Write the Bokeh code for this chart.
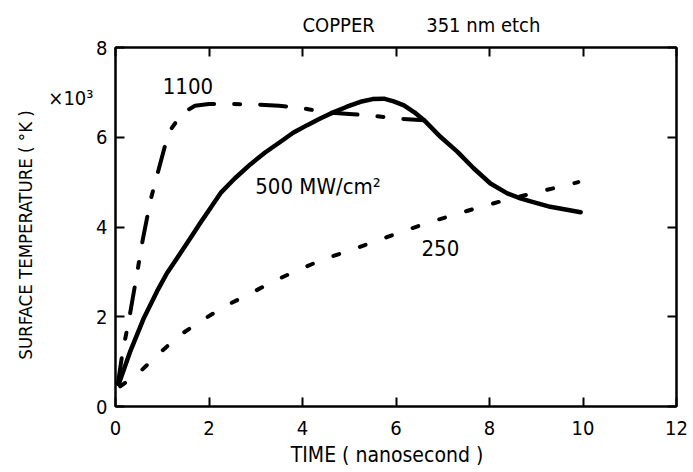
from bokeh.plotting import figure
from bokeh.models import Range1d, LinearAxis, FixedTicker, Label
from bokeh.embed import file_html
from bokeh.resources import INLINE

# ---- data ----
t_500 = [0.07, 0.32, 0.61, 0.89, 1.1, 1.32, 1.6, 1.82, 2.05, 2.25, 2.55, 2.89, 3.2, 3.53, 3.8, 4.1, 4.4, 4.67,
         4.95, 5.24, 5.5, 5.74, 5.95, 6.17, 6.4, 6.6, 6.95, 7.31, 7.66, 8.02, 8.38, 8.66, 8.88, 9.3, 9.95]
T_500 = [0.50, 1.24, 1.98, 2.57, 2.97, 3.31, 3.75, 4.10, 4.45, 4.76, 5.08, 5.40, 5.66, 5.90, 6.10, 6.27, 6.43, 6.56,
         6.68, 6.79, 6.85, 6.86, 6.80, 6.71, 6.55, 6.38, 6.01, 5.68, 5.31, 4.97, 4.75, 4.64, 4.57, 4.45, 4.33]

t_1100 = [0.05, 0.15, 0.3, 0.45, 0.58, 0.75, 0.94, 1.07, 1.2, 1.35, 1.5, 1.7, 2.0, 2.5, 3.0, 3.5, 3.85, 4.15, 4.45, 5.0, 5.5, 6.1, 6.6]
T_1100 = [0.50, 1.20, 2.00, 2.90, 3.70, 4.60, 5.35, 5.85, 6.20, 6.42, 6.58, 6.70, 6.74, 6.74, 6.73, 6.70, 6.67, 6.62, 6.56, 6.52, 6.48, 6.41, 6.38]

t_250 = [0.1, 0.5, 0.9, 1.35, 1.85, 2.35, 2.85, 3.4, 3.9, 4.4, 4.9, 5.4, 6.0, 6.7, 7.3, 7.85, 8.45, 9.0, 9.6, 9.9]
T_250 = [0.45, 0.75, 1.15, 1.57, 1.92, 2.24, 2.50, 2.80, 3.04, 3.26, 3.44, 3.62, 3.85, 4.10, 4.29, 4.46, 4.63, 4.77, 4.92, 5.00]

x_ticks = [0, 2, 4, 6, 8, 10, 12]
y_ticks = [0, 2, 4, 6, 8]
y_multiplier_pos = 6.88
y_multiplier_text = "×10³"

FONT = "DejaVu Sans Condensed"
NB = "\u00a0"

p = figure(width=690, height=470, output_backend="svg", toolbar_location=None,
           x_range=Range1d(0, 12), y_range=Range1d(0, 8),
           min_border_left=115, min_border_right=14, min_border_top=45, min_border_bottom=64,
           x_axis_label="TIME  (  nanosecond  )")
p.grid.visible = False
p.outline_line_color = "black"
p.outline_line_width = 2
p.background_fill_color = "white"

p.title.text = "COPPER" + NB * 9 + "351 nm etch"
p.title.align = "left"
p.title.offset = 187
p.title.text_font = FONT
p.title.text_font_size = "20px"
p.title.text_font_style = "normal"
p.title.text_color = "black"
p.title.standoff = 21

p.line(t_500, T_500, line_color="black", line_width=4.5, line_join="round", line_cap="round")
p.line(t_1100, T_1100, line_color="black", line_width=4, line_dash="26 20 6 20", line_cap="round", line_join="round")
p.line(t_250, T_250, line_color="black", line_width=4, line_dash="6 22", line_cap="round")

def style(ax):
    ax.axis_line_width = 2
    ax.major_tick_in = 9
    ax.major_tick_out = 0
    ax.major_tick_line_width = 2
    ax.minor_tick_line_color = None
    ax.major_label_text_font = FONT
    ax.major_label_text_font_size = "20px"
    ax.major_label_text_color = "black"
    ax.axis_label_text_font = FONT
    ax.axis_label_text_font_size = "20px"
    ax.axis_label_text_font_style = "normal"
    ax.axis_label_text_color = "black"

xa = p.xaxis[0]
xa.ticker = FixedTicker(ticks=x_ticks)
style(xa)
xa.major_label_standoff = 14
xa.axis_label_standoff = 5
xa.axis_label_text_font_size = "21px"

ya = p.yaxis[0]
ya.ticker = FixedTicker(ticks=y_ticks)
style(ya)
ya.major_label_standoff = 8

# outer left axis: carries the "x10^3" multiplier and the axis title
outer = LinearAxis(ticker=FixedTicker(ticks=[y_multiplier_pos]),
                   major_label_overrides={y_multiplier_pos: y_multiplier_text},
                   axis_label="SURFACE TEMPERATURE  (  °K  )")
style(outer)
outer.axis_line_color = None
outer.major_tick_line_color = None
outer.major_label_standoff = 0
outer.major_label_text_font_size = "20px"
outer.axis_label_standoff = 9
outer.axis_label_text_font_size = "18.5px"
p.add_layout(outer, "left")

top = LinearAxis(ticker=FixedTicker(ticks=x_ticks), major_label_overrides={t: "" for t in x_ticks})
style(top)
top.major_label_standoff = 0
p.add_layout(top, "above")
right = LinearAxis(ticker=FixedTicker(ticks=y_ticks), major_label_overrides={t: "" for t in y_ticks})
style(right)
p.add_layout(right, "right")

def lab(x, y, text, size="22px", align="left"):
    p.add_layout(Label(x=x, y=y, text=text, text_font=FONT, text_font_size=size,
                       text_align=align, text_baseline="middle", text_color="black"))

lab(1.55, 7.14, "1100", "22px", "center")
lab(2.99, 4.9, "500 MW/cm²", "22px", "left")
lab(6.95, 3.54, "250", "22px", "center")

open("out.html", "w").write(file_html(p, INLINE))
